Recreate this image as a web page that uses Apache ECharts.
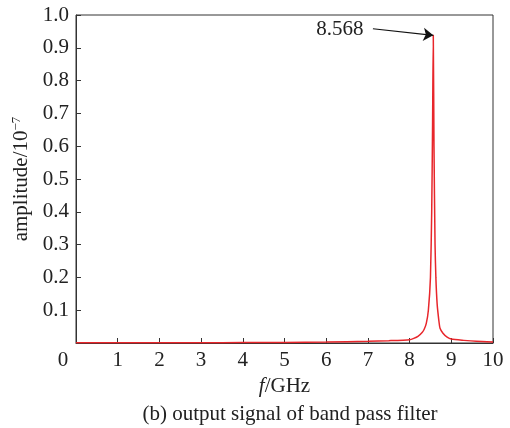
<!DOCTYPE html>
<html><head><meta charset="utf-8">
<script src="https://cdn.jsdelivr.net/npm/echarts@6/dist/echarts.min.js"></script>
<style>html,body{margin:0;padding:0;background:#fff}#c{width:510px;height:428px}</style>
</head><body><div id="c"></div>
<script>
const freq = [0, 1, 2, 3, 4, 5, 6, 7, 7.5, 8.0, 8.1, 8.2, 8.3, 8.35, 8.4, 8.45, 8.5, 8.53, 8.55, 8.568, 8.585, 8.61, 8.63, 8.66, 8.7, 8.73, 8.8, 8.9, 9.0, 9.3, 9.6, 10];
const amplitude = [0.0005, 0.0007, 0.0009, 0.001, 0.0013, 0.0018, 0.003, 0.005, 0.007, 0.010, 0.014, 0.02, 0.032, 0.042, 0.06, 0.10, 0.2, 0.4, 0.65, 0.938, 0.6, 0.3, 0.2, 0.12, 0.07, 0.045, 0.03, 0.018, 0.012, 0.008, 0.005, 0.003];
const xTicks = [0, 1, 2, 3, 4, 5, 6, 7, 8, 9, 10];
const yTicks = [0, 0.1, 0.2, 0.3, 0.4, 0.5, 0.6, 0.7, 0.8, 0.9, 1.0];
const peakF = 8.568;
const peakA = 0.938;
const peakLabel = '8.568';
const arrowStart = [7.12, 0.958];
const labelPos = [6.33, 0.956];

const font = 'Liberation Serif';
const fs = 21;
const chart = echarts.init(document.getElementById('c'));
chart.setOption({
  animation: false,
  backgroundColor: '#fff',
  grid: {left: 76, right: 17, top: 15, bottom: 85, show: true, borderColor: '#333', borderWidth: 1},
  title: {
    text: '(b) output signal of band pass filter',
    left: 285, top: 399, textAlign: 'center',
    textStyle: {fontFamily: font, fontSize: fs, fontWeight: 'normal', color: '#222'}
  },
  xAxis: {
    type: 'value', min: xTicks[0], max: xTicks[xTicks.length - 1], interval: 1,
    name: '{i|f}/GHz', nameLocation: 'middle', nameGap: 33,
    nameTextStyle: {fontFamily: font, fontSize: fs, color: '#222',
      rich: {i: {fontFamily: font, fontSize: fs, fontStyle: 'italic', color: '#222'}}},
    axisLine: {lineStyle: {color: '#333', width: 1}},
    axisTick: {inside: true, length: 5, lineStyle: {color: '#333'}},
    splitLine: {show: false},
    axisLabel: {
      fontFamily: font, fontSize: fs, color: '#222', margin: 7,
      formatter: v => v === 0 ? '{z|0}' : String(v),
      rich: {z: {fontFamily: font, fontSize: fs, color: '#222', padding: [0, 26, 0, 0]}}
    }
  },
  yAxis: {
    type: 'value', min: yTicks[0], max: yTicks[yTicks.length - 1], interval: 0.1,
    name: 'amplitude/10{s|−7}', nameLocation: 'middle', nameGap: 44, nameRotate: 90,
    nameTextStyle: {fontFamily: font, fontSize: fs, color: '#222',
      rich: {s: {fontFamily: font, fontSize: 13, color: '#222', verticalAlign: 'top', padding: [0, 0, 9, 0]}}},
    axisLine: {lineStyle: {color: '#333', width: 1}},
    axisTick: {inside: true, length: 5, lineStyle: {color: '#333'}},
    splitLine: {show: false},
    axisLabel: {
      fontFamily: font, fontSize: fs, color: '#222', margin: 7,
      formatter: v => v === 0 ? '' : v.toFixed(1)
    }
  },
  series: [{
    type: 'line',
    data: freq.map((f, i) => [f, amplitude[i]]),
    showSymbol: false,
    smooth: 0.2,
    lineStyle: {color: '#e8262b', width: 1.5},
    z: 2,
    markLine: {
      silent: true,
      symbol: ['none', 'arrow'], symbolSize: 10,
      lineStyle: {color: '#111', width: 1.2, type: 'solid'},
      label: {show: false},
      z: 5,
      data: [[{coord: arrowStart}, {coord: [peakF, peakA]}]]
    },
    markPoint: {
      silent: true,
      symbol: 'circle', symbolSize: 0,
      label: {show: true, formatter: peakLabel, fontFamily: font, fontSize: fs, color: '#222', position: 'inside'},
      data: [{coord: labelPos}]
    }
  }]
});
</script></body></html>
